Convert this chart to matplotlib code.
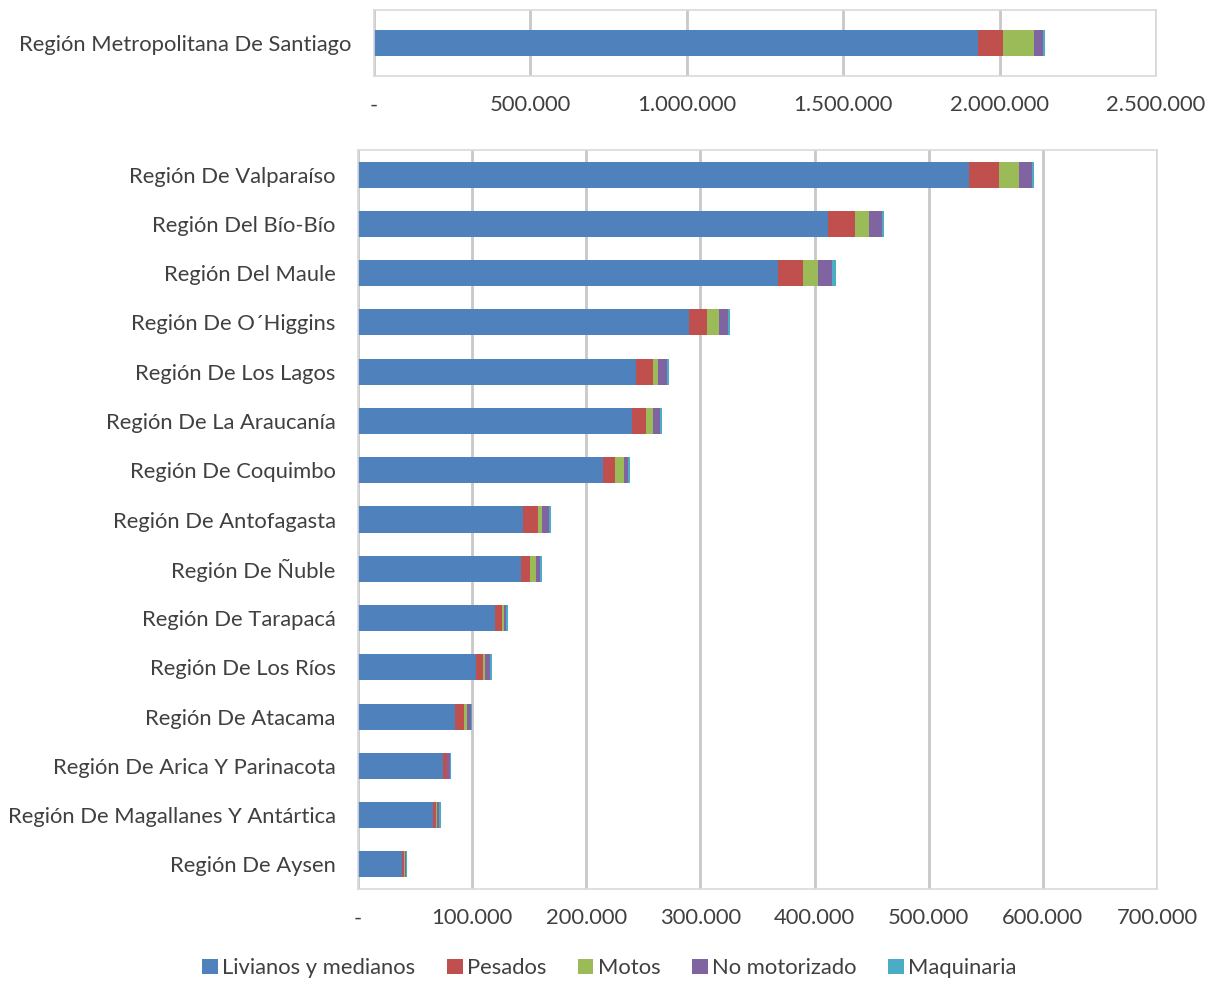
import matplotlib.pyplot as plt
from matplotlib.patches import Patch
from matplotlib.ticker import FuncFormatter

plt.rcParams['font.family'] = ['Lato', 'DejaVu Sans']

series = ["Livianos y medianos", "Pesados", "Motos", "No motorizado", "Maquinaria"]
colors = ["#4F81BD", "#C0504D", "#9BBB59", "#8064A2", "#4BACC6"]

# Región Metropolitana, drawn on its own axis because of its size
rm_name = "Región Metropolitana De Santiago"
rm_values = [1930000, 81000, 99000, 30000, 5000]

regiones = [
    "Región De Valparaíso",
    "Región Del Bío-Bío",
    "Región Del Maule",
    "Región De O´Higgins",
    "Región De Los Lagos",
    "Región De La Araucanía",
    "Región De Coquimbo",
    "Región De Antofagasta",
    "Región De Ñuble",
    "Región De Tarapacá",
    "Región De Los Ríos",
    "Región De Atacama",
    "Región De Arica Y Parinacota",
    "Región De Magallanes Y Antártica",
    "Región De Aysen",
]
livianos = [535000, 412200, 367700, 290300, 243300, 239700, 214300, 144400,
            142900, 120100, 103000, 84600, 74600, 65300, 38500]
pesados = [26900, 23200, 22600, 15300, 15500, 12900, 11100, 13100,
           7800, 5900, 6400, 8100, 3000, 2900, 1700]
motos = [17600, 11900, 13100, 10700, 4400, 6200, 7600, 3500,
         5000, 1700, 2300, 2400, 800, 1200, 600]
no_motorizado = [11200, 11500, 11900, 7500, 7200, 5500, 3800, 6100,
                 3500, 2400, 3800, 3500, 1800, 1700, 900]
maquinaria = [1900, 2200, 3700, 1900, 2400, 2400, 1200, 1800,
              1800, 900, 1700, 1100, 900, 1200, 900]

FS = 15.8


def miles(v, pos):
    if v == 0:
        return "-"
    return f"{v:,.0f}".replace(",", ".")


def estilo(ax):
    for s in ax.spines.values():
        s.set_color("#d9d9d9")
        s.set_linewidth(1.2)
    ax.grid(axis="x", color="#c8c8c8", linewidth=2)
    ax.set_axisbelow(True)
    ax.xaxis.set_major_formatter(FuncFormatter(miles))
    ax.tick_params(axis="both", length=0, labelsize=FS)
    ax.tick_params(axis="x", colors="#404040", pad=14)
    ax.tick_params(axis="y", colors="#404040", pad=16)


fig = plt.figure(figsize=(12.07, 9.81), dpi=100)

ax1 = fig.add_axes([374 / 1207, 1 - 76 / 981, 782 / 1207, 66 / 981])
left = 0
for val, col in zip(rm_values, colors):
    ax1.barh([rm_name], [val], left=left, height=0.4, color=col, linewidth=0)
    left += val
ax1.set_xlim(0, 2500000)
ax1.set_ylim(-0.5, 0.5)
ax1.set_xticks([0, 500000, 1000000, 1500000, 2000000, 2500000])
estilo(ax1)

ax2 = fig.add_axes([358 / 1207, 1 - 889 / 981, 799 / 1207, 739 / 981])
data = [livianos, pesados, motos, no_motorizado, maquinaria]
pos = list(range(len(regiones)))
acum = [0] * len(regiones)
for vals, col in zip(data, colors):
    ax2.barh(pos, vals, left=acum, height=0.53, color=col, linewidth=0)
    acum = [a + v for a, v in zip(acum, vals)]
ax2.set_yticks(pos)
ax2.set_yticklabels(regiones)
ax2.set_ylim(len(regiones) - 0.5, -0.5)
ax2.set_xlim(0, 700000)
ax2.set_xticks(range(0, 700001, 100000))
estilo(ax2)

handles = [Patch(facecolor=c, edgecolor="none") for c in colors]
fig.legend(handles, series, loc="center",
           bbox_to_anchor=(0.5 + 6 / 1207, 1 - 968 / 981),
           ncol=5, frameon=False, fontsize=FS, handlelength=0.7,
           handleheight=0.7, handletextpad=0.2, columnspacing=1.45,
           labelcolor="#404040")

fig.savefig("out.png", dpi=100)
